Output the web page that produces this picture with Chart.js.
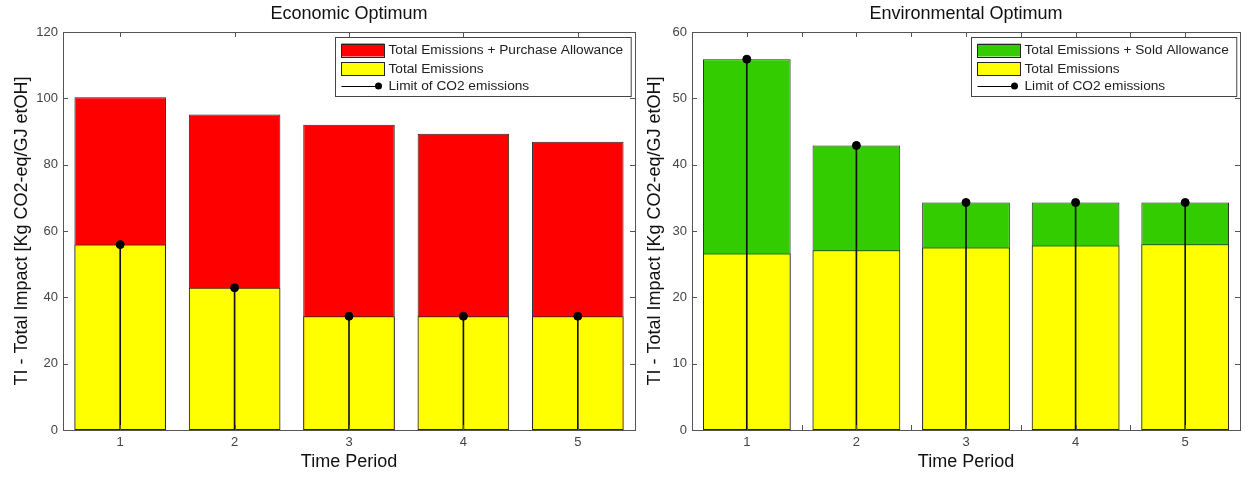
<!DOCTYPE html>
<html>
<head>
<meta charset="utf-8">
<script src="https://cdn.jsdelivr.net/npm/chart.js@4/dist/chart.umd.min.js"></script>
<style>
  html, body { margin: 0; padding: 0; background: #fff; }
  .panel { position: absolute; top: 0; height: 477px; }
  #econBox { left: 0; width: 640px; }
  #envBox { left: 640px; width: 605px; }
</style>
</head>
<body>
<div class="panel" id="econBox"><canvas id="econChart"></canvas></div>
<div class="panel" id="envBox"><canvas id="envChart"></canvas></div>
<script>
const periods = ['1', '2', '3', '4', '5'];

// CO2 limit per period (stem markers)
const co2Limit = [55.9, 42.9, 34.3, 34.3, 34.3];

// Economic optimum
const econWithAllowance = [100.3, 95.1, 92.0, 89.3, 86.9];
const econEmissions = [55.9, 42.9, 34.3, 34.3, 34.3];

// Environmental optimum
const envWithAllowance = [55.9, 42.9, 34.3, 34.3, 34.3];
const envEmissions = [26.6, 27.1, 27.5, 27.8, 28.0];

const FONT = "'Liberation Sans', Arial, Helvetica, sans-serif";
const EDGE = '#262626';
const YTITLE = 'TI - Total Impact [Kg CO2-eq/GJ etOH]';

// axes box with inward ticks on all four sides
const frameTicks = {
    id: 'frameTicks',
    afterDatasetsDraw(chart, args, opts) {
        const { ctx, chartArea: a, scales } = chart;
        const len = 5;
        ctx.save();
        ctx.strokeStyle = '#555';
        ctx.lineWidth = 1;
        ctx.beginPath();
        scales.y.ticks.forEach(t => {
            const py = Math.round(scales.y.getPixelForValue(t.value)) + 0.5;
            ctx.moveTo(a.left, py); ctx.lineTo(a.left + len, py);
            ctx.moveTo(a.right, py); ctx.lineTo(a.right - len, py);
        });
        for (let v = 0; v <= periods.length - 1 + 1e-9; v += opts.xStep) {
            const px = Math.round(scales.x.getPixelForValue(v)) + 0.5;
            ctx.moveTo(px, a.top); ctx.lineTo(px, a.top + len);
            ctx.moveTo(px, a.bottom); ctx.lineTo(px, a.bottom - len);
        }
        ctx.stroke();
        ctx.strokeRect(Math.round(a.left) + 0.5, Math.round(a.top) + 0.5,
            Math.round(a.right - a.left), Math.round(a.bottom - a.top));
        ctx.restore();
    }
};

// boxed legend in the upper right corner of the axes
const boxLegend = {
    id: 'boxLegend',
    afterDraw(chart, args, opts) {
        const { ctx, chartArea: a } = chart;
        ctx.save();
        ctx.font = '13.7px ' + FONT;
        const textW = Math.max(...opts.items.map(it => ctx.measureText(it.text).width));
        const sw = 43, sh = 13;
        const w = 7 + sw + 4 + textW + 7;
        const h = 59;
        const x = Math.round(a.right - 4 - w) + 0.5;
        const y = Math.round(a.top + 5) + 0.5;
        ctx.fillStyle = '#fff';
        ctx.fillRect(x, y, w, h);
        ctx.strokeStyle = '#444';
        ctx.lineWidth = 1;
        ctx.strokeRect(x, y, w, h);
        const rows = [12.5, 31, 48.5];
        opts.items.forEach((it, i) => {
            const cy = y + rows[i];
            const sx = x + 6;
            if (it.kind === 'box') {
                ctx.fillStyle = it.color;
                ctx.fillRect(sx, cy - sh / 2, sw, sh);
                ctx.strokeStyle = EDGE;
                ctx.strokeRect(sx, Math.round(cy - sh / 2) + 0.5, sw, sh);
            } else {
                ctx.strokeStyle = '#000';
                ctx.beginPath();
                ctx.moveTo(sx, Math.round(cy) + 0.5);
                ctx.lineTo(sx + 37, Math.round(cy) + 0.5);
                ctx.stroke();
                ctx.fillStyle = '#000';
                ctx.beginPath();
                ctx.arc(sx + 37, cy, 3.5, 0, Math.PI * 2);
                ctx.fill();
            }
            ctx.fillStyle = '#222';
            ctx.textBaseline = 'middle';
            ctx.fillText(it.text, sx + sw + 4, cy + 0.5);
        });
        ctx.restore();
    }
};

function makeChart(id, cfg) {
    return new Chart(document.getElementById(id), {
        type: 'bar',
        data: {
            labels: periods,
            datasets: [
                {
                    label: cfg.topLabel,
                    data: cfg.total,
                    backgroundColor: cfg.topColor,
                    borderColor: EDGE,
                    borderWidth: 1,
                    borderSkipped: false,
                    grouped: false,
                    barPercentage: 0.8,
                    categoryPercentage: 1,
                    order: 4
                },
                {
                    label: 'Total Emissions',
                    data: cfg.emissions,
                    backgroundColor: '#ffff00',
                    borderColor: EDGE,
                    borderWidth: 1,
                    borderSkipped: false,
                    grouped: false,
                    barPercentage: 0.8,
                    categoryPercentage: 1,
                    order: 3
                },
                {
                    // stems of the limit markers
                    label: 'stem',
                    data: co2Limit.map(v => [0, v]),
                    backgroundColor: '#111',
                    borderWidth: 0,
                    grouped: false,
                    barThickness: 1,
                    order: 2
                },
                {
                    type: 'line',
                    label: 'Limit of CO2 emissions',
                    data: co2Limit,
                    showLine: false,
                    pointRadius: 4,
                    pointBackgroundColor: '#000',
                    pointBorderColor: '#000',
                    order: 1
                }
            ]
        },
        options: {
            responsive: true,
            maintainAspectRatio: false,
            animation: false,
            layout: { padding: { top: 0, right: cfg.padRight, left: 0, bottom: 0 } },
            plugins: {
                legend: { display: false },
                tooltip: { enabled: false },
                title: {
                    display: true,
                    text: cfg.title,
                    fullSize: false,
                    color: '#111',
                    font: { family: FONT, size: 18, weight: 'normal' },
                    padding: { top: 3, bottom: 7.4 }
                },
                frameTicks: { xStep: cfg.xStep },
                boxLegend: {
                    items: [
                        { kind: 'box', color: cfg.topColor, text: cfg.topLabel },
                        { kind: 'box', color: '#ffff00', text: 'Total Emissions' },
                        { kind: 'stem', text: 'Limit of CO2 emissions' }
                    ]
                }
            },
            scales: {
                x: {
                    offset: true,
                    grid: { display: false, drawTicks: false },
                    border: { display: false },
                    ticks: { color: '#444', padding: 5, font: { family: FONT, size: 13 } },
                    title: {
                        display: true,
                        text: 'Time Period',
                        color: '#111',
                        font: { family: FONT, size: 18 },
                        padding: { top: 0, bottom: 4 }
                    },
                    afterFit(scale) { scale.height = 47; }
                },
                y: {
                    min: 0,
                    max: cfg.yMax,
                    grid: { display: false, drawTicks: false },
                    border: { display: false },
                    ticks: { stepSize: cfg.yStep, color: '#444', padding: 5, font: { family: FONT, size: 13 } },
                    title: {
                        display: true,
                        text: YTITLE,
                        color: '#111',
                        font: { family: FONT, size: 18 },
                        padding: { top: cfg.yTitlePad, bottom: 0 }
                    },
                    afterFit(scale) { scale.width = cfg.yWidth; }
                }
            }
        },
        plugins: [frameTicks, boxLegend]
    });
}

makeChart('econChart', {
    title: 'Economic Optimum',
    topLabel: 'Total Emissions + Purchase Allowance',
    topColor: '#ff0000',
    total: econWithAllowance,
    emissions: econEmissions,
    yMax: 120, yStep: 20,
    xStep: 1,
    yWidth: 63, yTitlePad: 11, padRight: 4
});

makeChart('envChart', {
    title: 'Environmental Optimum',
    topLabel: 'Total Emissions + Sold Allowance',
    topColor: '#33cc00',
    total: envWithAllowance,
    emissions: envEmissions,
    yMax: 60, yStep: 10,
    xStep: 0.5,
    yWidth: 52, yTitlePad: 4, padRight: 5
});
</script>
</body>
</html>
